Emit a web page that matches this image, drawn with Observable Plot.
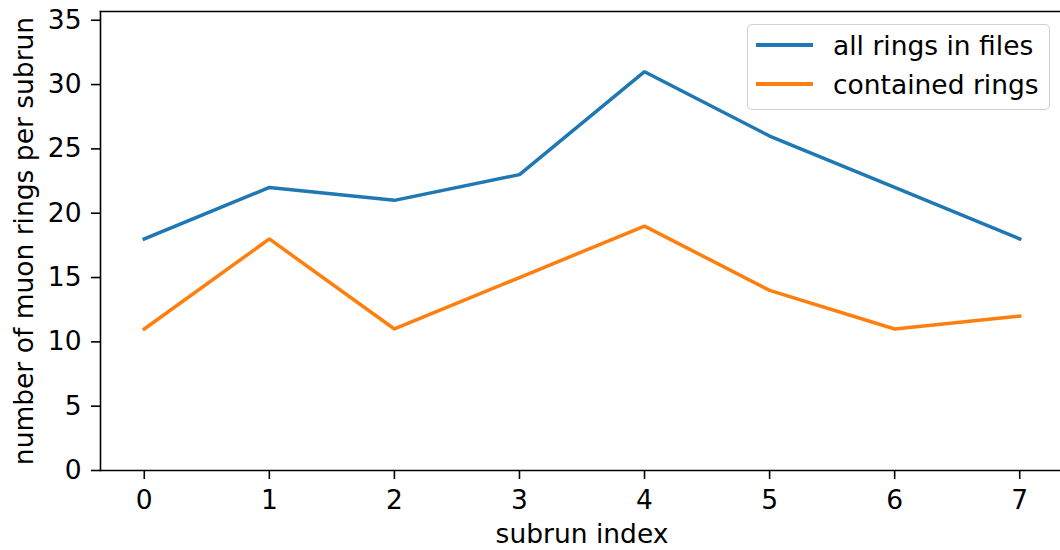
<!DOCTYPE html>
<html>
<head>
<meta charset="utf-8">
<script src="https://cdn.jsdelivr.net/npm/d3@7"></script>
<script src="https://cdn.jsdelivr.net/npm/@observablehq/plot@0.6"></script>
<style>
  html, body { margin: 0; padding: 0; background: #fff; }
  #wrap { position: relative; width: 1060px; height: 550px; overflow: hidden; font-family: "DejaVu Sans", sans-serif; }
  .legend { position: absolute; left: 747px; top: 24px; width: 303px; height: 86px; border: 1.5px solid #d0d0d0; border-radius: 5px; background: rgba(255,255,255,0.8); box-sizing: border-box; }
  .item { position: absolute; left: 8px; height: 30px; display: flex; align-items: center; font-size: 26.5px; color: #000; white-space: nowrap; }
  .item .sw { width: 57px; height: 3.5px; margin-right: 20px; }
</style>
</head>
<body>
<div id="wrap"></div>
<script>
const subrun = [0, 1, 2, 3, 4, 5, 6, 7];
const allRings = [18, 22, 21, 23, 31, 26, 22, 18];
const containedRings = [11, 18, 11, 15, 19, 14, 11, 12];
const seriesNames = ["all rings in files", "contained rings"];
const seriesColors = ["#1f77b4", "#ff7f0e"];
const yTicks = [0, 5, 10, 15, 20, 25, 30, 35];

const rows = [];
subrun.forEach((s, i) => {
  rows.push({x: s, y: allRings[i], series: seriesNames[0]});
  rows.push({x: s, y: containedRings[i], series: seriesNames[1]});
});

const FS = 26.5;
const chart = Plot.plot({
  width: 1060,
  height: 550,
  marginLeft: 100,
  marginRight: -3,
  marginTop: 11,
  marginBottom: 80,
  style: {fontFamily: "DejaVu Sans, sans-serif", fontSize: FS + "px", color: "#000", background: "#fff", overflow: "visible"},
  x: {domain: [-0.35, 7.35], ticks: subrun, tickFormat: d => String(d), label: null},
  y: {domain: [0, 35.68], ticks: yTicks, label: null},
  color: {domain: seriesNames, range: seriesColors},
  marks: [
    Plot.axisX({ticks: subrun, tickSize: 9, tickPadding: 11, fontSize: FS, tickFormat: d => String(d), label: "subrun index", labelAnchor: "center", labelOffset: 72, labelArrow: "none", strokeWidth: 1.6}),
    Plot.axisY({ticks: yTicks, tickSize: 9, tickPadding: 10, fontSize: FS, label: "number of muon rings per subrun", labelAnchor: "center", labelOffset: 86, labelArrow: "none", strokeWidth: 1.6}),
    Plot.line(rows, {x: "x", y: "y", stroke: "series", strokeWidth: 3.5, strokeLinejoin: "miter", strokeLinecap: "square"}),
    Plot.frame({anchor: "left", strokeWidth: 1.6}),
    Plot.frame({anchor: "bottom", strokeWidth: 1.6}),
    Plot.frame({anchor: "top", strokeWidth: 1.6})
  ]
});
const wrap = document.getElementById("wrap");
wrap.appendChild(chart);

const legend = document.createElement("div");
legend.className = "legend";
seriesNames.forEach((name, i) => {
  const it = document.createElement("div");
  it.className = "item";
  it.style.top = (i === 0 ? 5 : 44) + "px";
  it.innerHTML = `<span class="sw" style="background:${seriesColors[i]}"></span><span>${name}</span>`;
  legend.appendChild(it);
});
wrap.appendChild(legend);
</script>
</body>
</html>
